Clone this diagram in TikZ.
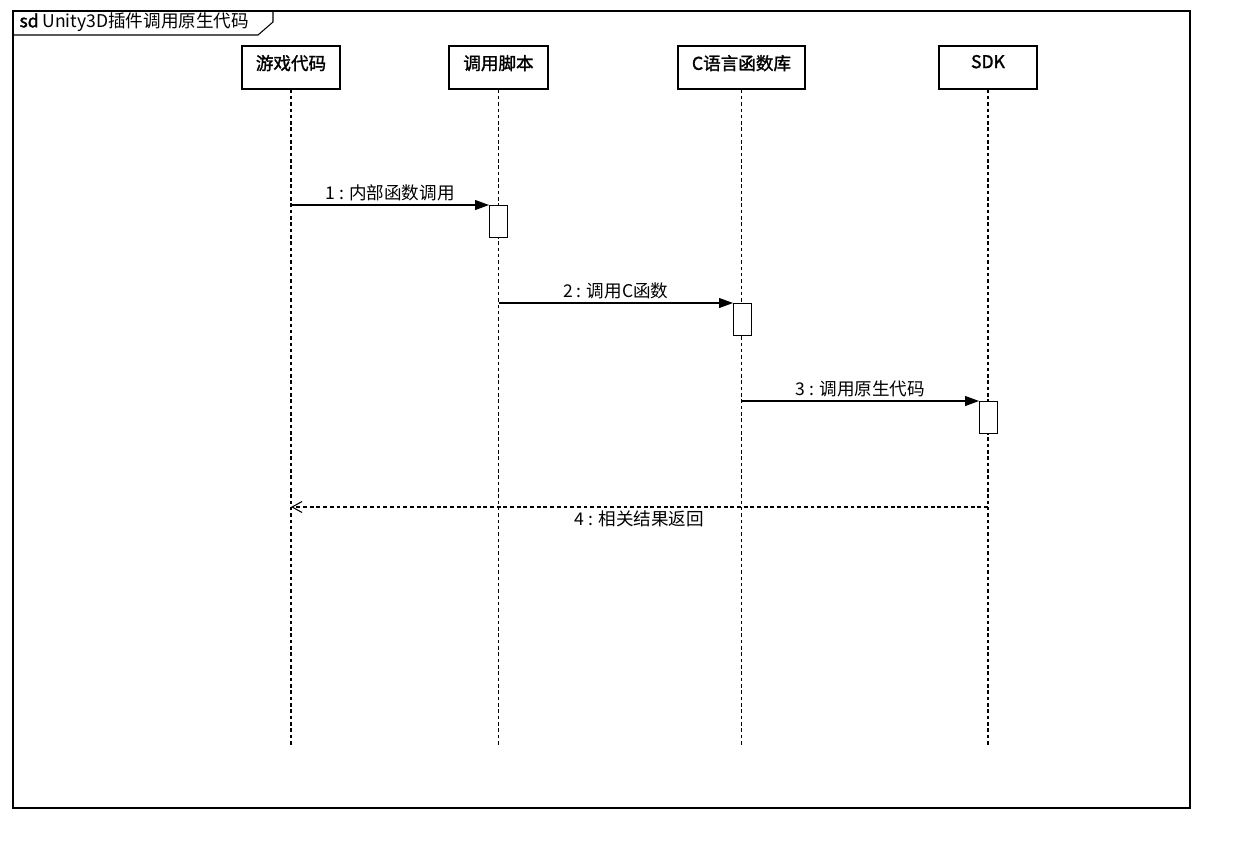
\documentclass[tikz,border=0pt]{standalone}
\usepackage{fontspec}
\setmainfont{Noto Sans CJK SC}[AutoFakeBold=1.5]
\usepackage{tikz}
\usetikzlibrary{arrows.meta,calc}

\begin{document}
\begin{tikzpicture}[
  x=0.02cm, y=-0.02cm,
  line width=0.6pt,
  every node/.style={font=\fontsize{10pt}{11pt}\selectfont},
  head/.style={draw, fill=white, minimum height=0.86cm, inner sep=0pt},
  headlab/.style={anchor=north, font=\fontsize{10pt}{11pt}\selectfont\bfseries, inner sep=0pt, yshift=-1.8mm},
  act/.style={draw, fill=white, anchor=north west, minimum width=0.36cm, minimum height=0.64cm, inner sep=0pt},
  life/.style={dash pattern=on 2pt off 1.6pt},
  call/.style={-{Triangle[length=2.8mm, width=2mm]}},
  ret/.style={dash pattern=on 2.2pt off 1.6pt, -{Straight Barb[length=2mm, width=2.2mm]}},
  lab/.style={inner sep=2pt}
]
\useasboundingbox (0,0) rectangle (1245,853);

% frame with title tab
\draw (13,11) rectangle (1190,808);
\draw (13,35) -- (258,35) -- (273,22) -- (273,11);
\node[anchor=west, inner sep=0pt] (title) at (19,22) {\textbf{sd} Unity3D插件调用原生代码};

% lifeline heads
\node[head, minimum width=1.96cm, label={[headlab]north:游戏代码}] (h1) at (291,67.5) {};
\node[head, minimum width=1.98cm, label={[headlab]north:调用脚本}] (h2) at (498.5,67.5) {};
\node[head, minimum width=2.54cm, label={[headlab]north:C语言函数库}] (h3) at (741.5,67.5) {};
\node[head, minimum width=1.96cm, label={[headlab]north:SDK}] (h4) at (988,67.5) {};

% lifeline ends
\coordinate (e1) at (291,745);
\coordinate (e2) at (498.5,745);
\coordinate (e3) at (741.5,745);
\coordinate (e4) at (988,745);
\draw[life] (h1.south) -- (e1);
\draw[life] (h2.south) -- (e2);
\draw[life] (h3.south) -- (e3);
\draw[life] (h4.south) -- (e4);

% activations
\node[act] (a1) at (489,205) {};
\node[act] (a2) at (733,303) {};
\node[act] (a3) at (979,401) {};

% messages
\draw[call] (h1 |- a1.north) -- node[lab, above] {1 : 内部函数调用} (a1.north west);
\draw[call] (h2 |- a2.north) -- node[lab, above] {2 : 调用C函数} (a2.north west);
\draw[call] (h3 |- a3.north) -- node[lab, above] {3 : 调用原生代码} (a3.north west);
\coordinate (m4) at (0,507);
\draw[ret] (h4 |- m4) -- node[lab, below] {4 : 相关结果返回} (h1 |- m4);
\end{tikzpicture}
\end{document}
